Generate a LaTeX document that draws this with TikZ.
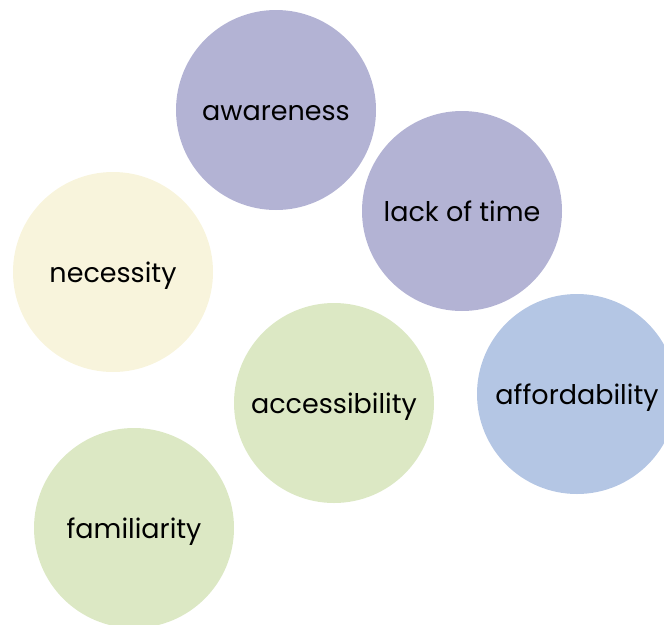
\documentclass[tikz,border=0pt]{standalone}
\usepackage{fontspec}
\setmainfont{Poppins}
\usepackage{xcolor}
\usepackage{tikz}
\usetikzlibrary{positioning}

\definecolor{lilac}{HTML}{B3B3D4}
\definecolor{skyblue}{HTML}{B4C6E4}
\definecolor{cream}{HTML}{F8F4DC}
\definecolor{sage}{HTML}{DCE8C4}

\tikzset{bubble/.style={circle,minimum size=200pt,inner sep=0pt,
    text height=24pt,text depth=4pt,
    font=\fontsize{27}{30}\selectfont}}

\begin{document}
\begin{tikzpicture}[x=1pt,y=-1pt]
  \useasboundingbox (0,0) rectangle (664,624);
  \begin{scope}
    \clip (0,0) rectangle (664,624);
    \node[bubble,fill=lilac] (aware) at (276,110) {awareness};
    \node[bubble,fill=lilac] (time) at (462,211) {lack of time};
    \node[bubble,fill=cream] (need) at (113,272) {necessity};
    \node[bubble,fill=sage] (access) at (334,403) {accessibility};
    \node[bubble,fill=skyblue] (afford) at (577,394) {affordability};
    \node[bubble,fill=sage] (famil) at (134,528) {familiarity};
  \end{scope}
\end{tikzpicture}
\end{document}
